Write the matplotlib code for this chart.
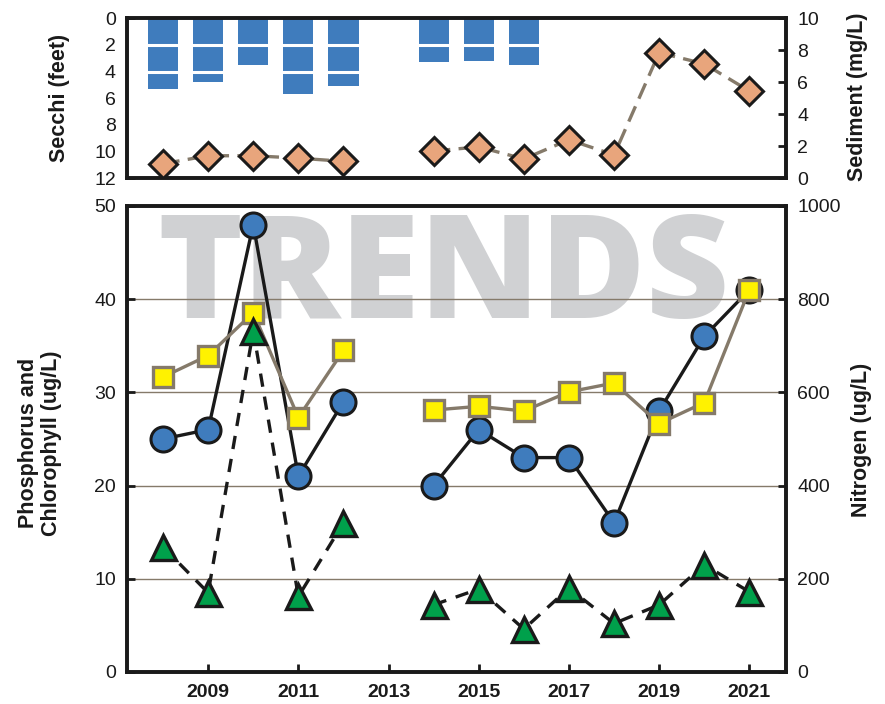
import numpy as np
import matplotlib
matplotlib.use("Agg")
import matplotlib.pyplot as plt

plt.rcParams['font.family'] = ['Liberation Sans', 'DejaVu Sans']

# data (2013 has no samples)
years = [2008, 2009, 2010, 2011, 2012, 2013, 2014, 2015, 2016, 2017, 2018, 2019, 2020, 2021]
secchi_ft = [5.3, 4.8, 3.5, 5.7, 5.1, np.nan, 3.3, 3.2, 3.5, np.nan, np.nan, np.nan, np.nan, np.nan]
sediment = [0.9, 1.4, 1.4, 1.25, 1.05, np.nan, 1.7, 1.95, 1.2, 2.4, 1.45, 7.85, 7.15, 5.45]
phosphorus = [25, 26, 48, 21, 29, np.nan, 20, 26, 23, 23, 16, 28, 36, 41]
chlorophyll = [13.4, 8.5, 36.6, 8.1, 16.0, np.nan, 7.2, 8.9, 4.6, 9.0, 5.2, 7.2, 11.5, 8.6]
nitrogen = [633, 679, 771, 546, 690, np.nan, 562, 570, 560, 601, 620, 533, 578, 820]
year_ticks = [2009, 2011, 2013, 2015, 2017, 2019, 2021]

BLUE = '#3f7cbd'
GREEN = '#00a04b'
YELLOW = '#fff200'
TAN = '#e8a57c'
TAUPE = '#857a6a'
SPINE_W = 2.6

fig = plt.figure(figsize=(8.85, 7.04), dpi=100)
ax_t = fig.add_axes([0.1435, 0.747, 0.745, 0.227])
ax_b = fig.add_axes([0.1435, 0.0455, 0.745, 0.662])
xlim = (2007.2, 2021.82)


def style_axis(a):
    for s in a.spines.values():
        s.set_linewidth(SPINE_W)
        s.set_color('#1a1a1a')
    a.tick_params(direction='in', length=6, width=2, labelsize=14, colors='#1a1a1a')


# ---- top panel: secchi bars + sediment
ax_t.bar(years, secchi_ft, width=0.67, color=BLUE, zorder=1)
for y in [2, 4, 6, 8, 10]:
    ax_t.axhline(y, color='white', lw=2.2, zorder=2)
ax_t.set_xlim(*xlim)
ax_t.set_ylim(12, 0)
ax_t.set_yticks(range(0, 13, 2))
ax_t.set_xticks([])
style_axis(ax_t)
ax_t.tick_params(axis='y', pad=8)

ax_s = ax_t.twinx()
ax_s.plot(years, sediment, color=TAUPE, lw=2.4, ls=(0, (5, 2.5)), marker='D', ms=14,
          mfc=TAN, mec='#1a1a1a', mew=2.2, zorder=3)
ax_s.set_ylim(0, 10)
ax_s.set_yticks(range(0, 11, 2))
style_axis(ax_s)
ax_s.tick_params(axis='y', pad=8)

# ---- bottom panel
ax_b.text(0.48, 0.76, 'TRENDS', transform=ax_b.transAxes, ha='center', va='baseline',
          fontsize=104, fontweight='heavy', family='Open Sans', color='#d0d1d3', zorder=0)
for y in [10, 20, 30, 40]:
    ax_b.axhline(y, color=TAUPE, lw=1.0, zorder=1)
ax_b.plot(years, phosphorus, color='#1a1a1a', lw=2.4, marker='o', ms=18,
          mfc=BLUE, mec='#1a1a1a', mew=2.2, zorder=3)
ax_b.set_xlim(*xlim)
ax_b.set_ylim(0, 50)
ax_b.set_yticks(range(0, 51, 10))
ax_b.set_xticks(year_ticks)
style_axis(ax_b)
ax_b.tick_params(axis='y', pad=8)
ax_b.tick_params(axis='x', pad=9)
for lab in ax_b.get_xticklabels():
    lab.set_fontweight('bold')

ax_n = ax_b.twinx()
ax_n.plot(years, nitrogen, color=TAUPE, lw=2.4, marker='s', ms=15,
          mfc=YELLOW, mec=TAUPE, mew=2.4, zorder=3)
ax_n.set_ylim(0, 1000)
ax_n.set_yticks(range(0, 1001, 200))
style_axis(ax_n)
ax_n.tick_params(axis='y', pad=8)

# chlorophyll shares the left scale but is drawn above nitrogen
ax_c = ax_b.twinx()
ax_c.plot(years, chlorophyll, color='#1a1a1a', lw=2.4, ls=(0, (4, 3)), marker='^', ms=18,
          mfc=GREEN, mec='#1a1a1a', mew=2.4, zorder=3)
ax_c.set_ylim(ax_b.get_ylim())
ax_c.set_yticks([])
ax_c.axis('off')

# axis titles
lab_kw = dict(fontsize=15.5, fontweight='bold', rotation=90, ha='center', va='center', color='#1a1a1a')
fig.text(60 / 885, 1 - 98 / 704, 'Secchi (feet)', **lab_kw)
fig.text(858 / 885, 1 - 97 / 704, 'Sediment (mg/L)', **lab_kw)
fig.text(40 / 885, 1 - 443 / 704, 'Phosphorus and\nChlorophyll (ug/L)', linespacing=1.1, **lab_kw)
fig.text(862 / 885, 1 - 440 / 704, 'Nitrogen (ug/L)', **lab_kw)

fig.savefig('out.png', dpi=100)
